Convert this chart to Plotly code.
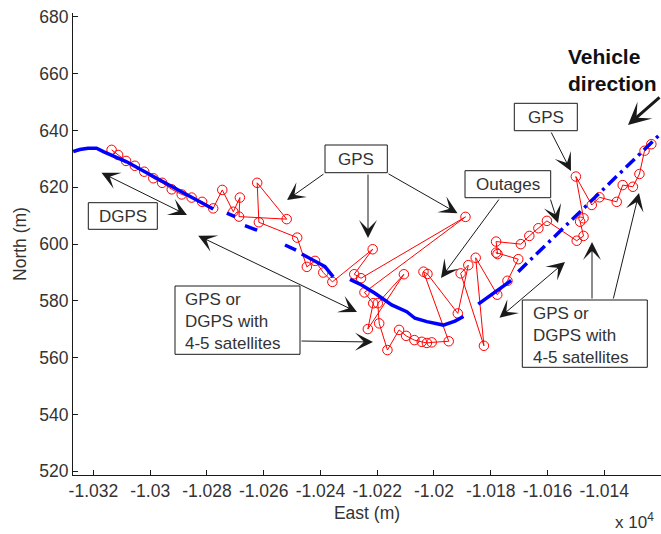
import plotly.graph_objects as go

# ---------------- data (metres) ----------------
gps_east = [-10313.6, -10311.3, -10308.5, -10305.4, -10302.1, -10298.9, -10295.8, -10292.4,
            -10288.9, -10285.4, -10281.7, -10277.8, -10274.6, -10270.7, -10268.4, -10268.7,
            -10251.9, -10262.3, -10261.7, -10248.2, -10244.8, -10241.9, -10239.0, -10235.8,
            -10221.6, -10228.1, -10225.7, -10188.9, -10224.5, -10221.4, -10223.3, -10210.6,
            -10219.8, -10219.3, -10216.4, -10212.3, -10209.8, -10206.9, -10204.3, -10202.5,
            -10200.8, -10194.8, -10203.7, -10202.3, -10191.6, -10187.9, -10190.6, -10182.4,
            -10185.3, -10177.7, -10174.1, -10170.3, -10178.1, -10177.6, -10178.1, -10169.4,
            -10166.4, -10163.2, -10160.2, -10149.7, -10147.3, -10148.5, -10147.3, -10150.0,
            -10144.4, -10141.7, -10135.6, -10133.5, -10129.9, -10127.6, -10125.8, -10123.4]
gps_north = [633.2, 631.4, 629.3, 627.6, 625.5, 623.2, 621.6, 619.3,
             617.5, 616.4, 614.9, 612.6, 619.1, 611.4, 616.4, 609.7,
             608.8, 621.6, 607.7, 602.3, 592.0, 594.1, 590.0, 586.7,
             598.2, 589.4, 588.0, 609.6, 583.0, 579.2, 570.1, 589.4,
             579.2, 572.1, 562.7, 569.8, 567.7, 566.2, 565.6, 565.2,
             565.4, 565.8, 590.3, 589.5, 575.6, 592.6, 589.7, 564.2,
             595.2, 582.2, 587.1, 594.7, 597.0, 596.5, 600.9, 600.0,
             602.9, 605.6, 608.2, 601.2, 602.9, 607.9, 609.1, 623.8,
             613.8, 616.5, 614.9, 620.8, 620.2, 624.7, 632.9, 635.2]

# reference (DGPS) trajectory, None = gap
ref_east = [-10327.1, -10324.8, -10321.9, -10318.9, -10316.5, -10313.8, -10308.3, -10296.6, -10284.8, -10277.8, None,
            -10273.0, -10270.1, None,
            -10266.6, -10262.3, None,
            -10252.5, -10248.6, None,
            -10246.6, -10238.4, -10235.5, None,
            -10229.6, -10225.5, -10220.8, -10214.9, -10209.6, -10206.7, -10202.5, -10196.7, -10192.6, -10189.6, None,
            -10184.4, -10172.8]
ref_north = [632.6, 633.3, 633.8, 633.8, 632.6, 631.4, 629.0, 622.6, 616.1, 612.4, None,
             610.9, 609.7, None,
             606.5, 604.9, None,
             599.7, 597.9, None,
             596.5, 592.1, 588.5, None,
             587.6, 585.6, 582.7, 578.6, 576.2, 573.9, 572.7, 571.5, 572.9, 574.5, None,
             578.9, 587.2]
ref_dd_east = [-10170.3, -10148.5, -10120.0]
ref_dd_north = [590.3, 611.5, 639.0]

x_tick_vals = [-10320, -10300, -10280, -10260, -10240, -10220, -10200, -10180, -10160, -10140]
x_tick_text = ["-1.032", "-1.03", "-1.028", "-1.026", "-1.024", "-1.022", "-1.02", "-1.018", "-1.016", "-1.014"]
y_tick_vals = [520, 540, 560, 580, 600, 620, 640, 660, 680]

# ---------------- layout helpers ----------------
W, H = 661, 534
L, R, T, B = 73, 0, 13, 59
PW, PH = W - L - R, H - T - B
FONT = "Liberation Sans, Arial, sans-serif"
TXT = "#333333"
INK = "#1a1a1a"


def px(x):
    return (x - L) / PW


def py(y):
    return 1 - (y - T) / PH


def arrow(tail, tip, both=False, width=1, size=3.0):
    return dict(x=px(tip[0]), y=py(tip[1]), xref="paper", yref="paper",
                ax=tail[0] - tip[0], ay=tail[1] - tip[1], axref="pixel", ayref="pixel",
                text="", showarrow=True, arrowhead=3, arrowsize=size, arrowwidth=width,
                arrowcolor=INK, arrowside="end+start" if both else "end",
                startarrowhead=3, startarrowsize=size, standoff=0, startstandoff=0)


def box(x0, y0, x1, y1):
    return dict(type="rect", xref="paper", yref="paper", x0=px(x0), x1=px(x1),
                y0=py(y1), y1=py(y0), line=dict(color=INK, width=1),
                fillcolor="white", layer="above")


def label(text, x, y, anchor="center", size=17, bold=False, color=TXT):
    return dict(x=px(x), y=py(y), xref="paper", yref="paper", text=text, showarrow=False,
                xanchor=anchor, yanchor="middle", align="left" if anchor == "left" else "center",
                font=dict(family=FONT, size=size, color=color,
                          weight="bold" if bold else "normal"))


fig = go.Figure()
fig.add_trace(go.Scatter(x=gps_east, y=gps_north, mode="lines+markers", name="GPS",
                         line=dict(color="#ff0000", width=1),
                         marker=dict(symbol="circle-open", size=9.5, color="#ff0000",
                                     line=dict(width=1, color="#ff0000"))))
fig.add_trace(go.Scatter(x=ref_east, y=ref_north, mode="lines", name="Reference",
                         line=dict(color="#0000ff", width=3.5), connectgaps=False))
fig.add_trace(go.Scatter(x=ref_dd_east, y=ref_dd_north, mode="lines", name="Reference (outage)",
                         line=dict(color="#0000ff", width=3.5, dash="12px,5px,3px,5px")))

shapes = [
    box(88.3, 202.7, 157.3, 229.3),    # DGPS
    box(325, 145, 387.3, 172.7),       # GPS middle
    box(465, 170.7, 550.7, 197.7),     # Outages
    box(514.3, 103.3, 577.3, 130.7),   # GPS right
    box(175, 286, 300, 354.3),         # left big box
    box(522.3, 300, 647.3, 367.3),     # right big box
]

annotations = [
    arrow((100, 172), (187, 215), both=True),
    arrow((196.7, 235), (357, 312), both=True),
    arrow((300, 341), (373, 342)),
    arrow((325, 173), (287, 200)),
    arrow((368, 173), (368, 238)),
    arrow((387, 173), (457.5, 213.3)),
    arrow((500, 198), (441, 278)),
    arrow((550, 198), (558, 223)),
    arrow((550.5, 131), (571, 171)),
    arrow((661, 96), (628, 125), width=3, size=1.25),
    arrow((498, 319), (565, 262), both=True),
    arrow((592, 300), (592, 242)),
    arrow((613, 300), (639, 193)),
    label("DGPS", 122.8, 216),
    label("GPS", 356.2, 159),
    label("Outages", 507.8, 184.2),
    label("GPS", 545.8, 117),
    label("GPS or<br>DGPS with<br>4-5 satellites", 183, 321.2, anchor="left"),
    label("GPS or<br>DGPS with<br>4-5 satellites", 531, 335, anchor="left"),
    label("Vehicle<br>direction", 566, 69.5, anchor="left", size=21, bold=True, color="#111111"),
    label("x 10<sup>4</sup>", 656, 521, anchor="right", size=17),
]

axis_common = dict(showline=True, linecolor=INK, linewidth=1, ticks="inside", ticklen=5,
                   tickcolor=INK, showgrid=False, zeroline=False, mirror=False,
                   tickfont=dict(family=FONT, size=17.5, color=TXT))

fig.update_layout(
    width=W, height=H,
    margin=dict(l=L, r=R, t=T, b=B, autoexpand=False),
    paper_bgcolor="white", plot_bgcolor="white",
    showlegend=False,
    font=dict(family=FONT, color=TXT),
    xaxis=dict(range=[-10327.2, -10120.0], tickvals=x_tick_vals, ticktext=x_tick_text,
               title=dict(text="East (m)", font=dict(family=FONT, size=17.5, color=TXT), standoff=6),
               automargin=False, **axis_common),
    yaxis=dict(range=[518.7, 681.4], tickvals=y_tick_vals,
               title=dict(text="North (m)", font=dict(family=FONT, size=17.5, color=TXT), standoff=8),
               automargin=False, **axis_common),
    shapes=shapes,
    annotations=annotations,
)

fig.write_html("out.html", config={"displayModeBar": False},
               post_script="document.body.style.margin='0px';document.body.style.overflow='hidden';")
